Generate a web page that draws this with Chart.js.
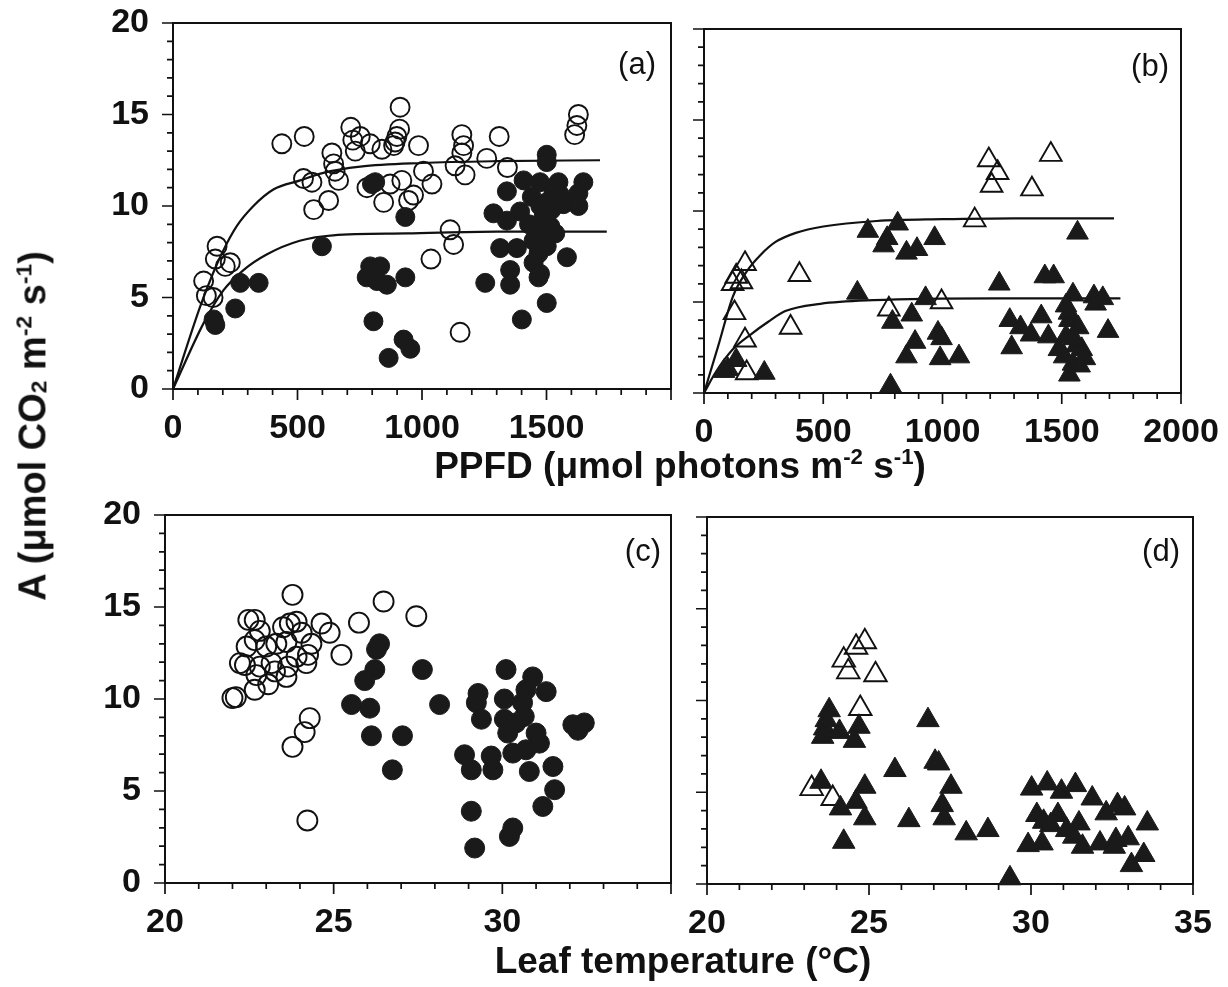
<!DOCTYPE html>
<html>
<head>
<meta charset="utf-8">
<script src="https://cdn.jsdelivr.net/npm/chart.js@4.4.1/dist/chart.umd.min.js"></script>
<style>
  body { margin: 0; background: #fff; }
  #wrap { position: relative; width: 1228px; height: 987px; overflow: hidden; background: #fff; }
  canvas { position: absolute; }
  .title { position: absolute; font: bold 37px "Liberation Sans", Arial, sans-serif; color: #111;
           white-space: nowrap; transform: translate(-50%, -50%); line-height: 1; }
  .title sup { font-size: 0.6em; vertical-align: 0.62em; }
  .title sub { font-size: 0.6em; vertical-align: -0.05em; }
  #ytitle { font-size: 38px; transform: translate(-50%, -50%) rotate(-90deg); }
</style>
</head>
<body>
<div id="wrap">
  <canvas id="pa"></canvas>
  <canvas id="pb"></canvas>
  <canvas id="pc"></canvas>
  <canvas id="pd"></canvas>
  <div class="title" id="ytitle" style="left:32px;top:426px">A (μmol CO<sub>2</sub> m<sup>-2</sup> s<sup>-1</sup>)</div>
  <div class="title" style="left:680px;top:465px">PPFD (μmol photons m<sup>-2</sup> s<sup>-1</sup>)</div>
  <div class="title" style="left:683px;top:960px">Leaf temperature (°C)</div>
</div>
<script>
// (a) A vs PPFD, circles
const aOpen = [[437,13.4],[527,13.8],[714,14.3],[912,15.4],[910,14.2],[899,13.8],[722,13.6],[752,13.8],
  [792,13.4],[839,13.1],[886,13.3],[892,13.5],[732,13.0],[986,13.3],[638,12.9],[645,12.3],[651,11.9],
  [524,11.5],[558,11.3],[665,11.4],[565,9.8],[625,10.3],[779,11.0],[872,11.2],[919,11.4],[846,10.2],
  [946,10.3],[1006,11.9],[1040,11.2],[966,10.6],[1160,13.9],[1167,13.3],[1160,12.9],[1133,12.2],
  [1173,11.7],[1260,12.6],[1310,13.8],[1343,12.1],[1628,15.0],[1622,14.4],[1613,13.9],[1113,8.7],
  [1127,7.9],[1036,7.1],[1153,3.1],[177,7.8],[170,7.1],[230,6.9],[210,6.7],[123,5.9],[134,5.1],[161,5.0]];
const aFilled = [[1501,12.8],[1501,12.4],[1408,11.4],[1474,11.3],[1548,11.3],[1648,11.3],[1341,10.8],
  [1441,10.5],[1528,10.7],[1628,10.7],[1501,10.2],[1568,10.1],[1628,10.0],[1287,9.6],[1394,9.7],
  [1341,9.2],[1488,9.4],[1535,8.5],[1515,8.9],[1448,8.1],[1314,7.7],[1381,7.7],[1468,7.4],[1501,7.8],
  [1582,7.2],[1448,6.9],[1474,6.3],[1354,6.5],[1354,5.7],[1254,5.8],[1468,6.1],[1501,4.7],[1401,3.8],
  [1460,8.6],[1490,8.0],[1520,9.8],[1430,9.0],[1475,10.0],[1555,10.6],
  [812,11.3],[799,11.2],[933,9.4],[598,7.8],[792,6.7],[832,6.7],[778,6.1],[819,5.9],[859,5.7],
  [933,6.1],[805,3.7],[926,2.7],[953,2.2],[866,1.7],[270,5.8],[344,5.8],[250,4.4],[163,3.8],[170,3.5]];
const aFitUpper = [[0,0],[109,4.5],[160,6.3],[203,7.6],[256,8.9],[323,10.0],[403,10.9],[511,11.4],
  [600,11.8],[752,12.15],[1000,12.35],[1300,12.45],[1715,12.5]];
const aFitLower = [[0,0],[123,3.6],[203,5.4],[283,6.5],[376,7.35],[509,8.1],[643,8.4],[936,8.5],
  [1300,8.6],[1742,8.6]];

// (b) A vs PPFD, triangles
const bOpen = [[1194,12.8],[1231,12.1],[1206,11.4],[1375,11.2],[1454,13.1],[1135,9.5],[172,7.1],
  [135,6.4],[157,6.1],[120,6.0],[400,6.5],[128,4.4],[363,3.6],[172,2.9],[179,1.1],[775,4.6],[996,5.0]];
const bFilled = [[687,8.9],[812,9.3],[768,8.5],[753,8.1],[849,7.7],[893,7.9],[967,8.5],[1566,8.8],
  [643,5.5],[929,5.2],[1238,6.0],[1429,6.4],[1466,6.4],[1547,5.4],[1635,5.3],[1672,5.2],[1642,4.9],
  [790,3.9],[871,4.3],[885,2.8],[849,2.0],[981,3.3],[996,3.0],[990,1.9],[1069,2.0],[1282,4.0],
  [1327,3.6],[1290,2.5],[1371,3.2],[1414,4.2],[1444,3.1],[1518,4.8],[1532,4.0],[1569,3.6],[1518,3.1],
  [1488,2.4],[1584,2.4],[1597,1.9],[1532,1.0],[1694,3.4],[782,0.4],[100,1.3],[135,1.8],[253,1.1],
  [84,1.2],[1547,1.6],[1562,2.6],[1530,4.4],[1550,3.0],[1510,2.0],[1575,1.5]];
const bFitUpper = [[0,0],[60,2.6],[121,5.3],[180,6.7],[238,7.6],[300,8.3],[385,8.8],[500,9.15],
  [724,9.45],[1000,9.55],[1300,9.6],[1719,9.6]];
const bFitLower = [[0,0],[47,1.1],[121,2.4],[194,3.2],[268,3.9],[341,4.5],[488,4.9],[709,5.1],
  [1224,5.2],[1746,5.2]];

// (c) A vs leaf temperature, circles
const cOpen = [[23.78,15.66],[26.48,15.3],[27.45,14.5],[22.47,14.3],[22.66,14.3],[25.75,14.15],
  [24.64,14.1],[24.88,13.6],[23.70,14.1],[23.90,14.2],[23.5,13.9],[24.05,13.6],[22.81,13.7],
  [22.66,13.2],[23.6,13.1],[23.3,13.0],[23.0,12.85],[25.23,12.4],[24.24,12.4],[23.9,12.3],
  [22.22,11.95],[22.37,11.85],[22.81,11.76],[23.16,11.95],[23.65,11.76],[24.19,11.95],[22.71,11.3],
  [23.26,11.5],[23.6,11.2],[23.06,10.8],[22.66,10.5],[22.1,10.1],[22.0,10.05],[24.29,8.96],
  [24.14,8.2],[23.78,7.4],[24.22,3.4],[24.34,13.0],[22.42,12.85]];
const cFilled = [[26.36,13.0],[26.27,12.7],[26.22,11.6],[25.92,11.0],[25.53,9.7],[26.07,9.5],
  [27.63,11.6],[28.14,9.7],[26.12,8.0],[27.04,8.0],[26.74,6.15],[29.28,10.3],[29.23,9.8],[29.38,8.9],
  [30.11,11.6],[30.9,11.2],[31.3,10.4],[30.7,10.5],[30.06,10.0],[30.6,9.8],[30.06,8.9],[30.4,8.7],
  [30.65,9.05],[30.16,8.15],[31.0,8.15],[31.1,7.6],[30.31,7.06],[30.7,7.24],[28.88,6.97],[29.08,6.15],
  [29.67,6.9],[29.72,6.15],[30.8,6.06],[31.5,6.33],[32.09,8.6],[32.43,8.7],[32.24,8.3],[31.55,5.07],
  [31.2,4.16],[29.08,3.9],[30.31,2.99],[30.21,2.53],[29.18,1.9]];

// (d) A vs leaf temperature, triangles
const dOpen = [[24.87,13.2],[24.6,12.9],[24.22,12.2],[24.36,11.56],[25.2,11.4],[24.73,9.56],
  [23.23,5.2],[23.88,4.66]];
const dFilled = [[23.77,9.47],[23.68,8.93],[23.63,8.48],[23.57,8.02],[24.09,8.29],[24.69,8.57],
  [24.55,7.8],[26.82,8.93],[27.04,6.66],[27.15,6.57],[25.8,6.21],[27.53,5.3],[27.26,4.3],[27.32,3.58],
  [23.52,5.57],[24.87,5.3],[24.6,4.48],[24.12,4.12],[24.87,3.58],[24.22,2.3],[26.23,3.48],[28.0,2.76],
  [28.67,2.94],[29.35,0.31],[30.02,5.2],[30.5,5.48],[30.94,5.03],[31.37,5.39],[31.89,4.66],[32.67,4.3],
  [32.89,4.12],[32.32,3.85],[30.18,3.76],[30.83,3.76],[30.39,3.39],[30.61,3.21],[31.48,3.3],[31.1,2.94],
  [31.32,2.58],[31.59,2.03],[29.91,2.12],[30.34,2.21],[32.13,2.21],[32.62,2.4],[33.0,2.49],[32.57,2.03],
  [33.59,3.3],[33.48,1.58],[33.1,1.03]];

const ppfdLabelsA = [0, 500, 1000, 1500];
const ppfdLabelsB = [0, 500, 1000, 1500, 2000];
const tempLabelsC = [20, 25, 30];
const tempLabelsD = [20, 25, 30, 35];
const aLabels = [0, 5, 10, 15, 20];

const ink = '#111';
const fillInk = '#1a1a1a';
const tickFont = { family: "'Liberation Sans', Arial, sans-serif", size: 34, weight: 'bold' };
const toXY = arr => arr.map(p => ({ x: p[0], y: p[1] }));

function openSet(arr, style, r) {
  return { data: toXY(arr), pointStyle: style, pointRadius: r, borderColor: ink, borderWidth: 1.9,
           backgroundColor: 'rgba(255,255,255,0)', clip: false };
}
function filledSet(arr, style, r) {
  return { data: toXY(arr), pointStyle: style, pointRadius: r, borderColor: fillInk, borderWidth: 1,
           backgroundColor: fillInk, clip: false };
}
function fitLine(arr) {
  return { data: toXY(arr), showLine: true, pointRadius: 0, borderColor: ink, borderWidth: 2.2,
           cubicInterpolationMode: 'monotone', fill: false };
}

// frame box, minor/major tick marks and the panel letter
const frameAndTicks = {
  id: 'frameAndTicks',
  beforeDatasetsDraw(chart, args, opts) {
    const { ctx, chartArea: a, scales: { x, y } } = chart;
    ctx.save();
    ctx.strokeStyle = ink;
    ctx.lineWidth = 1.7;
    ctx.beginPath();
    x.ticks.forEach(t => {
      const px = x.getPixelForValue(t.value);
      const len = t.value % opts.xMajor === 0 ? 11 : 6;
      ctx.moveTo(px, a.bottom);
      ctx.lineTo(px, a.bottom + len);
    });
    y.ticks.forEach(t => {
      const py = y.getPixelForValue(t.value);
      const len = t.value % 5 === 0 ? 11 : 6;
      ctx.moveTo(a.left, py);
      ctx.lineTo(a.left - len, py);
    });
    ctx.stroke();
    ctx.lineWidth = 2;
    ctx.strokeRect(a.left, a.top, a.right - a.left, a.bottom - a.top);
    ctx.font = "31px 'Liberation Sans', Arial, sans-serif";
    ctx.fillStyle = ink;
    ctx.textAlign = 'right';
    ctx.textBaseline = 'middle';
    ctx.fillText(opts.letter, a.right - opts.dx, a.top + opts.dy);
    ctx.restore();
  }
};

function panel(id, box, xAxis, yLabels, datasets, letter) {
  const padL = 125, padT = 22, padB = 70;
  const padR = Math.min(45, 1228 - box.R);
  const cv = document.getElementById(id);
  cv.width = box.R - box.L + padL + padR;
  cv.height = box.B - box.T + padT + padB;
  cv.style.left = (box.L - padL) + 'px';
  cv.style.top = (box.T - padT) + 'px';
  new Chart(cv, {
    type: 'scatter',
    data: { datasets },
    options: {
      responsive: false,
      animation: false,
      layout: { padding: { top: padT, right: padR, left: 0, bottom: 0 } },
      plugins: {
        legend: { display: false },
        tooltip: { enabled: false },
        frameAndTicks: { letter: letter.text, dx: letter.dx, dy: letter.dy, xMajor: xAxis.major }
      },
      scales: {
        x: {
          type: 'linear', min: xAxis.min, max: xAxis.max,
          grid: { display: false }, border: { display: false },
          ticks: {
            stepSize: xAxis.step, autoSkip: false, maxRotation: 0, minRotation: 0,
            padding: 11, color: ink, font: tickFont,
            callback: v => xAxis.labels.includes(v) ? String(v) : ''
          },
          afterFit: s => { s.height = padB; s.paddingLeft = 0; s.paddingRight = 0; }
        },
        y: {
          type: 'linear', min: 0, max: 20,
          grid: { display: false }, border: { display: false },
          ticks: {
            stepSize: 1, autoSkip: false, padding: 16, color: ink, font: tickFont,
            callback: v => yLabels && yLabels.includes(v) ? String(v) : ''
          },
          afterFit: s => { s.width = padL; s.paddingTop = 0; s.paddingBottom = 0; }
        }
      }
    },
    plugins: [frameAndTicks]
  });
}

panel('pa', { L: 173, R: 671, T: 23, B: 389 },
  { min: 0, max: 2000, step: 100, major: 500, labels: ppfdLabelsA }, aLabels,
  [filledSet(aFilled, 'circle', 9.5), openSet(aOpen, 'circle', 9.5), fitLine(aFitUpper), fitLine(aFitLower)],
  { text: '(a)', dx: 15, dy: 42 });

panel('pb', { L: 704, R: 1181, T: 29, B: 393 },
  { min: 0, max: 2000, step: 100, major: 500, labels: ppfdLabelsB }, null,
  [filledSet(bFilled, 'triangle', 12.5), openSet(bOpen, 'triangle', 12.5), fitLine(bFitUpper), fitLine(bFitLower)],
  { text: '(b)', dx: 12, dy: 38 });

panel('pc', { L: 165, R: 671, T: 515, B: 883 },
  { min: 20, max: 35, step: 1, major: 5, labels: tempLabelsC }, aLabels,
  [filledSet(cFilled, 'circle', 10), openSet(cOpen, 'circle', 10)],
  { text: '(c)', dx: 10, dy: 37 });

panel('pd', { L: 707, R: 1193, T: 517, B: 884 },
  { min: 20, max: 35, step: 1, major: 5, labels: tempLabelsD }, null,
  [filledSet(dFilled, 'triangle', 13), openSet(dOpen, 'triangle', 13)],
  { text: '(d)', dx: 13, dy: 35 });
</script>
</body>
</html>
